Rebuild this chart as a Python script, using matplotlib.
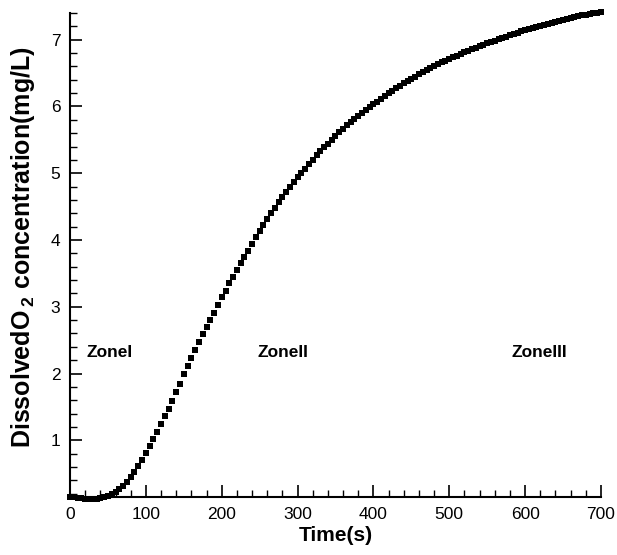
import matplotlib
matplotlib.use('Agg')
from matplotlib import pyplot as plt
from matplotlib.ticker import MultipleLocator
import numpy as np

# time axis (s), one sample every 5 s
time = np.arange(0, 705, 5)

# dissolved O2 (mg/L)
do_conc = [
    0.15, 0.15, 0.14, 0.13, 0.12, 0.115, 0.115, 0.12, 0.13, 0.15,
    0.17, 0.20, 0.23, 0.275, 0.32, 0.375, 0.45, 0.53, 0.61, 0.70,
    0.81, 0.91, 1.02, 1.13, 1.245, 1.36, 1.47, 1.59, 1.72, 1.85,
    1.99, 2.115, 2.23, 2.35, 2.475, 2.585, 2.69, 2.80, 2.91, 3.03,
    3.14, 3.24, 3.35, 3.44, 3.55, 3.65, 3.74, 3.84, 3.94, 4.04,
    4.13, 4.225, 4.31, 4.40, 4.48, 4.565, 4.65, 4.725, 4.80, 4.87,
    4.94, 5.00, 5.07, 5.14, 5.20, 5.27, 5.33, 5.39, 5.445, 5.50,
    5.56, 5.615, 5.665, 5.72, 5.77, 5.815, 5.86, 5.905, 5.945, 5.99,
    6.03, 6.07, 6.115, 6.155, 6.195, 6.235, 6.27, 6.31, 6.345, 6.38,
    6.41, 6.445, 6.48, 6.51, 6.54, 6.57, 6.60, 6.63, 6.66, 6.685,
    6.71, 6.735, 6.76, 6.785, 6.81, 6.835, 6.86, 6.88, 6.90, 6.925,
    6.945, 6.965, 6.985, 7.005, 7.025, 7.045, 7.065, 7.085, 7.105, 7.125,
    7.145, 7.16, 7.175, 7.19, 7.21, 7.225, 7.24, 7.255, 7.27, 7.285,
    7.30, 7.315, 7.33, 7.345, 7.355, 7.365, 7.375, 7.385, 7.395, 7.40,
    7.41,
]

zone_names = ['ZoneI', 'ZoneII', 'ZoneIII']
zone_x = [22, 247, 582]
zone_y = 2.32

plt.rcParams['font.family'] = 'Liberation Sans'
plt.rcParams['mathtext.fontset'] = 'custom'
plt.rcParams['mathtext.rm'] = 'Liberation Sans:bold'
plt.rcParams['mathtext.default'] = 'rm'

fig = plt.figure(figsize=(6.17, 5.55), dpi=100)
ax = fig.add_axes([0.1135, 0.1045, 0.8605, 0.872])

ax.plot(time, do_conc, 's', color='black', markersize=3.9, markeredgewidth=0, clip_on=False)

for name, xz in zip(zone_names, zone_x):
    ax.text(xz, zone_y, name, fontsize=12.5, fontweight='bold', va='center', ha='left')

ax.set_xlim(0, 700)
ax.set_ylim(0.15, 7.4)
ax.xaxis.set_major_locator(MultipleLocator(100))
ax.xaxis.set_minor_locator(MultipleLocator(20))
ax.yaxis.set_major_locator(MultipleLocator(1))
ax.yaxis.set_minor_locator(MultipleLocator(0.2))

ax.spines['top'].set_visible(False)
ax.spines['right'].set_visible(False)
for s in ('left', 'bottom'):
    ax.spines[s].set_linewidth(1.5)
ax.tick_params(which='major', direction='in', length=8.5, width=1.2, labelsize=12.5, pad=7)
ax.tick_params(which='minor', direction='in', length=5, width=1)

ax.set_xlabel('Time(s)', fontsize=15, fontweight='bold', labelpad=3)
ax.set_ylabel(r'DissolvedO$\,_{2}$ concentration(mg/L)', fontsize=18, fontweight='bold')
ax.yaxis.set_label_coords(-0.063, 0.517)

fig.savefig('out.png', dpi=100)
